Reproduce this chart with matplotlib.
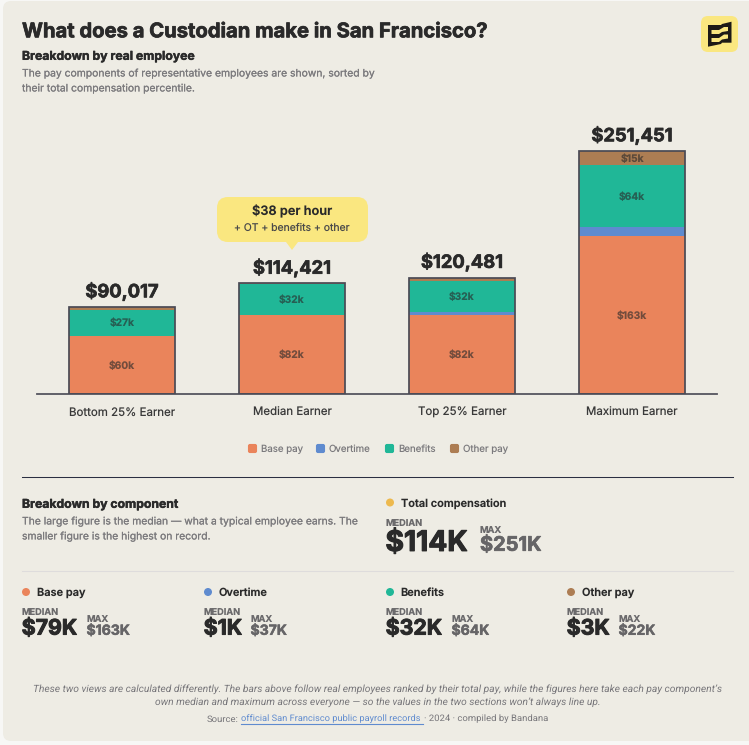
"""Custodian pay breakdown card"""
from matplotlib import pyplot as plt
from matplotlib import patheffects as pe
from matplotlib.patches import FancyBboxPatch, Polygon, Circle

W, H = 749, 745

# pay components per representative employee, in $k
earners = ["Bottom 25% Earner", "Median Earner", "Top 25% Earner", "Maximum Earner"]
base_pay = [60.2, 82.0, 82.0, 163.0]
overtime = [0.0, 0.0, 2.9, 9.45]
benefits = [27.2, 32.0, 32.0, 64.0]
other_pay = [2.617, 0.421, 3.581, 15.0]
totals = ["$90,017", "$114,421", "$120,481", "$251,451"]

components = ["Base pay", "Overtime", "Benefits", "Other pay"]
colors = ["#EA845B", "#5F8BCF", "#20B797", "#AD7D53"]

medians = ["$79K", "$1K", "$32K", "$3K"]
maxes = ["$163K", "$37K", "$64K", "$22K"]

INK = "#2A2A2A"
GREY = "#7B7A7D"
CARD = "#EEECE4"
YELLOW = "#FAE780"
OUTLINE = "#4A4A55"

plt.rcParams["font.family"] = ["Inter", "DejaVu Sans"]
plt.rcParams["text.hinting"] = "none"


def px(size):
    """Pixel size to points at dpi 100"""
    return size * 0.72


def thick(width, color):
    """Stroke that fattens a text's glyphs"""
    return [pe.withStroke(linewidth=width, foreground=color)]


fig = plt.figure(figsize=(W / 100, H / 100), dpi=100, facecolor="#F7F7F5")

# full-figure layer in pixel coordinates for the card and text
bg = fig.add_axes([0, 0, 1, 1])
bg.set_xlim(0, W)
bg.set_ylim(H, 0)
bg.axis("off")


def text(x, y, s, size, color=INK, weight="normal", ha="left", va="center", heavy=0, **kw):
    t = bg.text(x, y, s, fontsize=px(size), color=color, fontweight=weight,
                ha=ha, va=va, zorder=5, **kw)
    if heavy:
        t.set_path_effects(thick(heavy, color))
    return t


bg.add_patch(FancyBboxPatch((3, 1), W + 20, 740, boxstyle="round,pad=0,rounding_size=8",
                            fc=CARD, ec="none"))

# header
text(22, 32, "What does a Custodian make in San Francisco?", 20.2, weight="bold", heavy=0.5)
text(22, 56.5, "Breakdown by real employee", 12.2, weight="bold", heavy=0.3)
text(22, 73.5, "The pay components of representative employees are shown, sorted by",
     10.35, GREY, heavy=0.1)
text(22, 88.5, "their total compensation percentile.", 10.35, GREY, heavy=0.1)

# logo
bg.add_patch(FancyBboxPatch((701, 16), 37, 36, boxstyle="round,pad=0,rounding_size=7",
                            fc=YELLOW, ec="none"))
bg.add_patch(Polygon([(708, 25), (721, 25), (722, 24), (731.5, 21.7), (731.5, 42.7), (722, 42.7),
                      (721, 44), (708, 46.7)], fc="#1D1A16", ec="none"))
bg.add_patch(Polygon([(711.5, 30), (719, 30), (724, 27), (728, 27), (728, 31), (722, 32), (719, 34),
                      (711.5, 34)], fc=YELLOW, ec="none", zorder=3))
bg.add_patch(Polygon([(711.5, 38), (719, 38), (724, 34.5), (728, 34.5), (728, 38.5), (722, 39.5),
                      (719, 42), (711.5, 42)], fc=YELLOW, ec="none", zorder=3))

# stacked bars
ax = fig.add_axes([37 / W, 1 - 394 / H, 680 / W, 274 / H])
ax.patch.set_alpha(0)
ax.set_xlim(-0.5, 3.5)
ax.set_ylim(0, 274 * 251.451 / 243)
for side in ["top", "left", "right"]:
    ax.spines[side].set_visible(False)
ax.spines["bottom"].set_color("#55555F")
ax.spines["bottom"].set_linewidth(1.3)
ax.set_yticks([])
ax.set_xticks(range(4))
ax.set_xticklabels(earners, fontsize=px(11.5), color="#3A3A3A")
ax.tick_params(axis="x", length=0, pad=9.6)

xs = list(range(4))
bottoms = [0.0] * 4
for series, color in zip([base_pay, overtime, benefits, other_pay], colors):
    ax.bar(xs, series, width=0.6235, bottom=bottoms, color=color)
    for i, v in enumerate(series):
        if v >= 10:
            ax.annotate("$%.0fk" % v, (i, bottoms[i] + v / 2), xytext=(0, -0.6),
                        textcoords="offset points", ha="center", va="center",
                        fontsize=px(10.2), fontweight="bold", color=INK, alpha=0.62)
    bottoms = [b + v for b, v in zip(bottoms, series)]
ax.bar(xs, bottoms, width=0.6235, fill=False, edgecolor=OUTLINE, linewidth=1.25, zorder=4)
for i, total in enumerate(totals):
    ax.annotate(total, (i, bottoms[i]), xytext=(0, 4.3), textcoords="offset points",
                ha="center", va="bottom", fontsize=px(18.3), fontweight="bold", color=INK,
                path_effects=thick(0.5, INK))

# hourly callout
bg.add_patch(FancyBboxPatch((217, 197), 151, 45, boxstyle="round,pad=0,rounding_size=11",
                            fc=YELLOW, ec="none"))
bg.add_patch(Polygon([(286, 242), (298, 242), (292, 250)], fc=YELLOW, ec="none"))
text(292, 211.5, "$38 per hour", 12.8, weight="semibold", ha="center")
text(292, 228.5, "+ OT + benefits + other", 10.4, "#4A4A4A", ha="center")

# legend
legend_x = [248, 316, 385, 450]
label_x = [261, 329, 398, 463]
for lx, tx, name, color in zip(legend_x, label_x, components, colors):
    bg.add_patch(FancyBboxPatch((lx + 0.5, 444.5), 8, 8, boxstyle="round,pad=0,rounding_size=1.5",
                                fc=color, ec=color, lw=0.8))
    text(tx, 449, name, 9.7, GREY)

bg.plot([22, 733], [476.5, 476.5], color="#2B2F42", lw=0.75)

# component section
text(22, 504.5, "Breakdown by component", 12.2, weight="bold", heavy=0.3)
text(22, 521.5, "The large figure is the median \u2014 what a typical employee earns. The",
     10.35, GREY, heavy=0.1)
text(22, 536.5, "smaller figure is the highest on record.", 10.35, GREY, heavy=0.1)

bg.add_patch(Circle((390, 502.5), 4, fc="#EDB94E", ec="none"))
text(401, 503.5, "Total compensation", 11, weight="semibold")
text(385.5, 523.5, "MEDIAN", 9.2, "#6B6A6C", weight="bold")
text(385.5, 543.5, "$114K", 28.2, weight="bold", heavy=0.8)
text(480, 530, "MAX", 9.2, "#6B6A6C", weight="bold")
text(480, 545.5, "$251K", 20, "#666567", weight="bold", heavy=0.5)

bg.plot([22, 733], [570.5, 570.5], color="#DEDCDC", lw=0.75)

card_x = [22, 204, 386, 567]
dot_x = [26, 208, 390, 571]
label_offset = [15, 15, 14, 15]
max_x = [87, 251, 452, 619]
for i, name in enumerate(components):
    bg.add_patch(Circle((dot_x[i], 592), 4, fc=colors[i], ec="none"))
    text(card_x[i] + label_offset[i], 592.5, name, 11, weight="semibold")
    text(card_x[i] - 0.5, 612.5, "MEDIAN", 9.2, "#6B6A6C", weight="bold")
    text(card_x[i] - 0.3, 629, medians[i], 21.3, weight="bold", heavy=0.7)
    text(max_x[i] - 0.5, 619, "MAX", 9.2, "#6B6A6C", weight="bold")
    text(max_x[i] - 0.5, 631, maxes[i], 14, "#666567", weight="bold", heavy=0.35)

# footnote and source
note_font = ["Roboto", "DejaVu Sans"]
text(378, 689, "These two views are calculated differently. The bars above follow real employees "
     "ranked by their total pay, while the figures here take each pay component\u2019s",
     10.25, "#77767A", ha="center", style="italic", family=note_font)
text(378, 702, "own median and maximum across everyone \u2014 so the values in the two sections "
     "won\u2019t always line up.", 10.25, "#77767A", ha="center", style="italic", family=note_font)
text(207, 719, "Source:", 9.45, "#77767A", family=note_font)
text(241, 719, "official San Francisco public payroll records", 9.3, "#5F8BCF", family=note_font)
bg.plot([241, 423], [723.5, 723.5], color="#5F8BCF", lw=0.8)
text(424.5, 719, "\u00b7 2024 \u00b7 compiled by Bandana", 9.45, "#77767A", family=note_font)

plt.savefig("out.png", dpi=100, facecolor=fig.get_facecolor())
plt.close()
